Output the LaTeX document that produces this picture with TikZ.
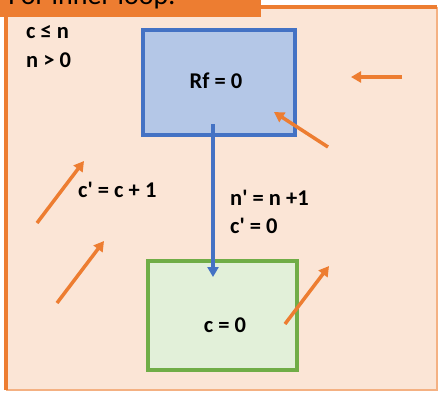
\documentclass[tikz,border=0pt]{standalone}
\usepackage{fontspec}
\setmainfont{Carlito}
\usepackage{xcolor}
\usetikzlibrary{arrows.meta}

\definecolor{accentorange}{HTML}{ED7D31}
\definecolor{lightorange}{HTML}{F4B183}
\definecolor{paleorange}{HTML}{FBE5D6}
\definecolor{bluefill}{HTML}{B4C7E7}
\definecolor{blueline}{HTML}{4472C4}
\definecolor{greenfill}{HTML}{E2F0D9}
\definecolor{greenline}{HTML}{70AD47}

\newcommand{\tick}{\textquotesingle}

\begin{document}
\begin{tikzpicture}[
    x=1pt, y=-1pt,
    lbl/.style={
        font=\fontsize{22.5}{26}\selectfont\bfseries,
        inner sep=0pt
    },
    statebox/.style={
        draw,
        line width=3.6pt,
        inner sep=0pt
    },
    hint/.style={
        draw=accentorange,
        line width=3.5pt,
        -{Triangle[length=10pt,width=11pt]}
    }
]
    \useasboundingbox (0,0) rectangle (439,392);
    \begin{scope}
        \clip (0,0) rectangle (439,392);
        % hintergrund und rahmen
        \fill[paleorange] (6,7) rectangle (437,390);
        \draw[lightorange, line width=2.4pt] (437,7) -- (437,390) -- (6,390);
        \draw[accentorange, line width=3.4pt] (6,390) -- (6,7) -- (437,7);
        \fill[accentorange] (0,0) rectangle (261,17);
        \node[anchor=base east, font=\fontsize{28}{32}\selectfont, inner sep=0pt] (banner) at (176,4) {For inner loop:};
    \end{scope}

    % zustaende
    \node[statebox, draw=blueline, fill=bluefill, minimum width=152pt, minimum height=105pt] (rf) at (219,82.5) {};
    \node[statebox, draw=greenline, fill=greenfill, minimum width=149pt, minimum height=109pt] (cbox) at (222.5,315.5) {};
    \node[lbl] (rftext) at (216,81) {Rf = 0};
    \node[lbl] (ctext) at (225,325) {c = 0};

    % bedingungen und updates
    \node[lbl, anchor=west] (cle) at (26,32) {c ≤ n};
    \node[lbl, anchor=west] (npos) at (26,60) {n > 0};
    \node[lbl, anchor=west] (cinc) at (78,190) {c\tick{} = c + 1};
    \node[lbl, anchor=west] (nupd) at (230,198) {n\tick{} = n +1};
    \node[lbl, anchor=west] (creset) at (230,226) {c\tick{} = 0};

    % uebergang
    \coordinate (rfout) at (213,124);
    \coordinate (cin) at (213,277);
    \draw[blueline, line width=3.6pt, -{Triangle[length=10pt,width=11pt]}] (rfout) -- (cin);

    % orange pfeile
    \coordinate (a1) at (402,77);  \coordinate (b1) at (351,77);
    \coordinate (a2) at (328,147); \coordinate (b2) at (274,112);
    \coordinate (a3) at (37,223);  \coordinate (b3) at (84,161);
    \coordinate (a4) at (57,303);  \coordinate (b4) at (104,241);
    \coordinate (a5) at (285,324); \coordinate (b5) at (329,266);
    \draw[hint] (a1) -- (b1);
    \draw[hint] (a2) -- (b2);
    \draw[hint] (a3) -- (b3);
    \draw[hint] (a4) -- (b4);
    \draw[hint] (a5) -- (b5);
\end{tikzpicture}
\end{document}
